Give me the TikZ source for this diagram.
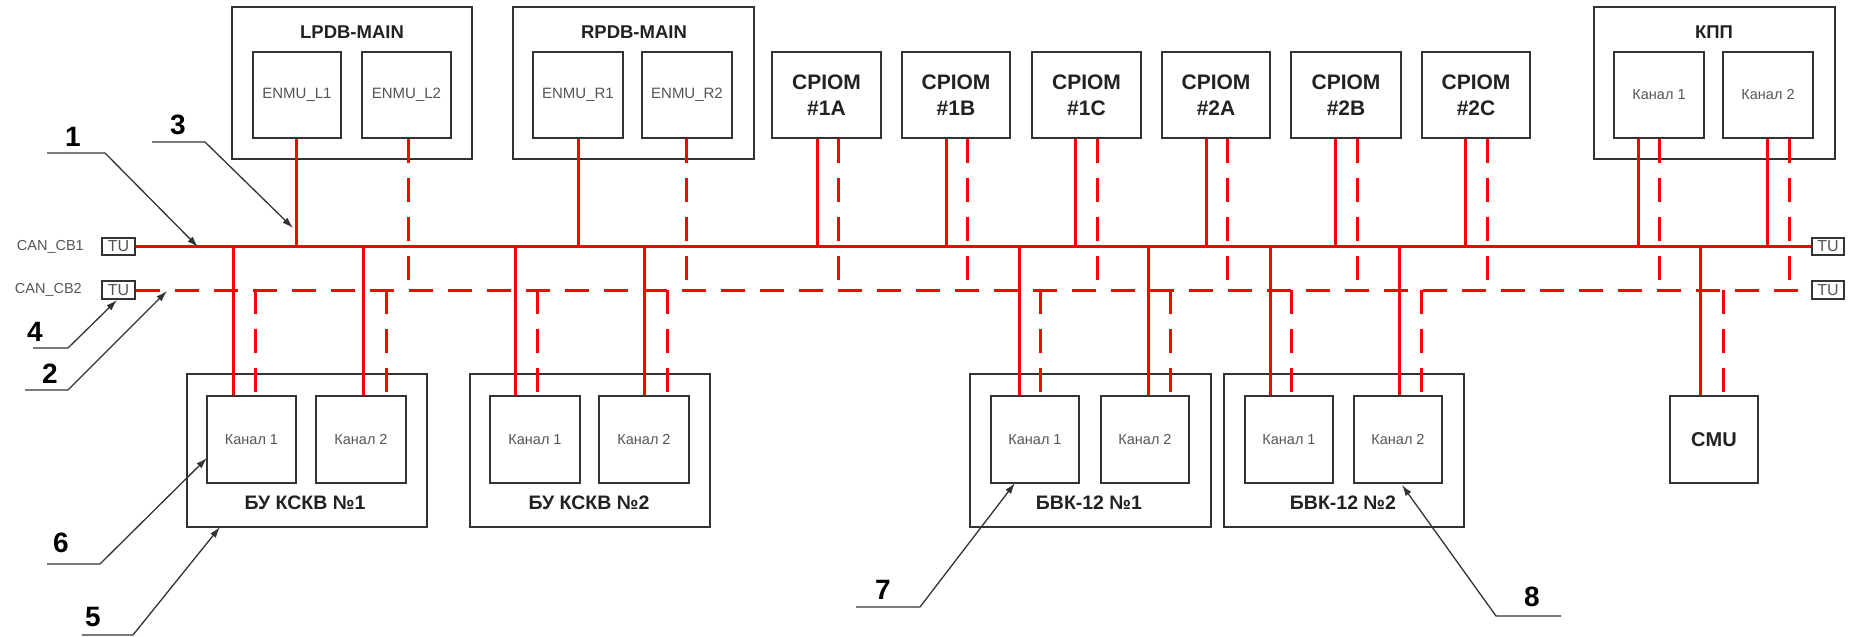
\documentclass[tikz,border=0pt]{standalone}
\usepackage{fontspec}
\setmainfont{Liberation Sans}
\usetikzlibrary{arrows.meta}
\definecolor{boxline}{HTML}{333333}
\definecolor{greytext}{HTML}{555555}
\definecolor{darktext}{HTML}{222222}
\definecolor{busred}{HTML}{FF0000}
\newcommand\fs[1]{\fontsize{#1}{#1}\selectfont}
\newcommand\bx[6]{\node[box,#6,minimum width={(#4-#2)*1pt},minimum height={(#5-#3)*1pt}] (#1) at ({(#2+#4)/2},{(#3+#5)/2})}
\newcommand\updrop[3]{%
  \draw[wire] (#2,0 |- #1.south) -- (#2,0 |- tuL1.east);
  \draw[dwire] (#3,0 |- #1.south) -- (#3,0 |- tuL2.east);}
\newcommand\lowdrop[3]{%
  \draw[wire] (#2,0 |- tuL1.east) -- (#2,0 |- #1.north);
  \draw[dwire] (#3,0 |- tuL2.east) -- (#3,0 |- #1.north);}
\newcommand\leaderline[9]{% name, numx, numy, text, ax, ay, bx, by, tip
  \coordinate (u#1a) at (#5,#6);
  \coordinate (u#1b) at (#7,#8);
  \node[num] (n#1) at (#2,#3) {#4};
  \draw[leader] (u#1a) -- (u#1b) -- (#9);}
\begin{document}
\begin{tikzpicture}[x=1pt,y=-1pt,
  box/.style={draw=boxline,line width=1.8pt,inner sep=0pt,align=center},
  wire/.style={busred,line width=3pt},
  dwire/.style={busred,line width=3pt,dash pattern=on 24pt off 15pt},
  leader/.style={draw=boxline,line width=1.3pt,-{Latex[length=11pt,width=7pt]}},
  chan/.style={font=\fs{14.5},text=greytext},
  enmu/.style={font=\fs{15},text=greytext},
  cpiom/.style={font=\fontsize{21}{26}\selectfont\bfseries,text=darktext},
  ttl/.style={font=\fs{18.5}\bfseries,text=darktext,inner sep=0pt},
  lttl/.style={font=\fs{19.5}\bfseries,text=darktext,inner sep=0pt},
  cmu/.style={font=\fs{20}\bfseries,text=darktext},
  num/.style={font=\fs{28}\bfseries,text=black,inner sep=0pt},
  tu/.style={line width=1.4pt,font=\fs{16},text=greytext},
  canlbl/.style={font=\fs{14.5},text=greytext,anchor=east,inner sep=0pt}]
\fill[white] (0,0) rectangle (1856,637);
\useasboundingbox (0,0) rectangle (1856,637);

% ---- upper units ----
\bx{lpdb}{232}{7}{472}{159}{}{};
\node[ttl] (lpdbT) at (352,32) {LPDB-MAIN};
\bx{enL1}{253}{52}{341}{138}{enmu}{ENMU\_L1};
\bx{enL2}{362}{52}{451}{138}{enmu}{ENMU\_L2};

\bx{rpdb}{513}{7}{754}{159}{}{};
\node[ttl] (rpdbT) at (634,32) {RPDB-MAIN};
\bx{enR1}{533}{52}{623}{138}{enmu}{ENMU\_R1};
\bx{enR2}{642}{52}{732}{138}{enmu}{ENMU\_R2};

\bx{cp1A}{772}{52}{881}{138}{cpiom}{CPIOM\\\#1A};
\bx{cp1B}{902}{52}{1010}{138}{cpiom}{CPIOM\\\#1B};
\bx{cp1C}{1032}{52}{1141}{138}{cpiom}{CPIOM\\\#1C};
\bx{cp2A}{1162}{52}{1270}{138}{cpiom}{CPIOM\\\#2A};
\bx{cp2B}{1291}{52}{1401}{138}{cpiom}{CPIOM\\\#2B};
\bx{cp2C}{1422}{52}{1530}{138}{cpiom}{CPIOM\\\#2C};

\bx{kpp}{1594}{7}{1835}{159}{}{};
\node[ttl] (kppT) at (1714,32) {КПП};
\bx{kppK1}{1614}{52}{1704}{138}{chan}{Канал 1};
\bx{kppK2}{1723}{52}{1813}{138}{chan}{Канал 2};

% ---- terminators and buses ----
\bx{tuL1}{102}{238}{135}{255}{tu}{TU};
\bx{tuL2}{102}{281}{135}{299}{tu}{TU};
\bx{tuR1}{1812}{238}{1844}{255}{tu}{TU};
\bx{tuR2}{1812}{281}{1844}{299}{tu}{TU};
\node[canlbl] (can1) at (84,247) {CAN\_CB1};
\node[canlbl] (can2) at (82,290) {CAN\_CB2};

\draw[wire] (tuL1.east) -- (tuR1.west);
\draw[dwire] (tuL2.east) -- (tuR2.west);

% ---- lower units ----
\bx{bu1}{187}{374}{427}{527}{}{};
\bx{bu1K1}{207}{396}{296}{483}{chan}{Канал 1};
\bx{bu1K2}{316}{396}{406}{483}{chan}{Канал 2};
\node[lttl] (bu1T) at (305,503) {БУ КСКВ №1};

\bx{bu2}{470}{374}{710}{527}{}{};
\bx{bu2K1}{490}{396}{580}{483}{chan}{Канал 1};
\bx{bu2K2}{599}{396}{689}{483}{chan}{Канал 2};
\node[lttl] (bu2T) at (589,503) {БУ КСКВ №2};

\bx{bvk1}{970}{374}{1211}{527}{}{};
\bx{bvk1K1}{991}{396}{1079}{483}{chan}{Канал 1};
\bx{bvk1K2}{1101}{396}{1189}{483}{chan}{Канал 2};
\node[lttl] (bvk1T) at (1089,503) {БВК-12 №1};

\bx{bvk2}{1224}{374}{1464}{527}{}{};
\bx{bvk2K1}{1245}{396}{1333}{483}{chan}{Канал 1};
\bx{bvk2K2}{1354}{396}{1442}{483}{chan}{Канал 2};
\node[lttl] (bvk2T) at (1343,503) {БВК-12 №2};

\bx{cmu}{1670}{396}{1758}{483}{cmu}{CMU};

% ---- drops from upper units ----
\draw[wire] (296,0 |- enL1.south) -- (296,0 |- tuL1.east);
\draw[dwire] (408,0 |- enL2.south) -- (408,0 |- tuL2.east);
\draw[wire] (578,0 |- enR1.south) -- (578,0 |- tuL1.east);
\draw[dwire] (686,0 |- enR2.south) -- (686,0 |- tuL2.east);
\updrop{cp1A}{817}{838}
\updrop{cp1B}{946}{967}
\updrop{cp1C}{1075}{1097}
\updrop{cp2A}{1206}{1227}
\updrop{cp2B}{1335}{1357}
\updrop{cp2C}{1465}{1487}
\updrop{kppK1}{1638}{1659}
\updrop{kppK2}{1767}{1789}

% ---- drops to lower units ----
\lowdrop{bu1K1}{233}{255}
\lowdrop{bu1K2}{363}{386}
\lowdrop{bu2K1}{515}{537}
\lowdrop{bu2K2}{644}{667}
\lowdrop{bvk1K1}{1019}{1040}
\lowdrop{bvk1K2}{1148}{1170}
\lowdrop{bvk2K1}{1270}{1291}
\lowdrop{bvk2K2}{1399}{1421}
\lowdrop{cmu}{1700}{1723}

% ---- reference leaders ----
\coordinate (t1) at (198,247);
\coordinate (t3) at (293,228);
\coordinate (t4) at (117,300);
\coordinate (t2) at (167,291);
\coordinate (t6) at (207,458);
\coordinate (t5) at (220,527);
\coordinate (t7) at (1015,483);
\coordinate (t8) at (1402,485);
\leaderline{1}{73}{137}{1}{47}{153}{105}{153}{t1}
\leaderline{3}{178}{125}{3}{152}{142}{205}{142}{t3}
\leaderline{4}{35}{332}{4}{33}{348}{68}{348}{t4}
\leaderline{2}{50}{374}{2}{25}{390}{68}{390}{t2}
\leaderline{6}{61}{543}{6}{47}{564}{100}{564}{t6}
\leaderline{5}{93}{617}{5}{82}{635}{133}{635}{t5}
\leaderline{7}{883}{590}{7}{856}{607}{920}{607}{t7}
\leaderline{8}{1532}{597}{8}{1561}{616}{1496}{616}{t8}
\end{tikzpicture}
\end{document}
